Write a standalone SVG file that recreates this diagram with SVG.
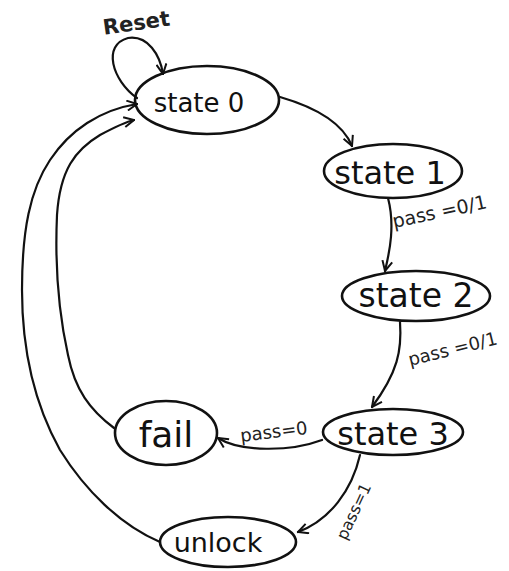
<svg xmlns="http://www.w3.org/2000/svg" width="509" height="571" viewBox="0 0 509 571">
<style>
.n{fill:none;stroke:#111;stroke-width:2.6}
.c{fill:none;stroke:#111;stroke-width:2.2;stroke-linecap:round}
.t{font-family:"DejaVu Sans","Liberation Sans",sans-serif;fill:#111;text-anchor:middle}
.l{font-family:"DejaVu Sans","Liberation Sans",sans-serif;fill:#222}
</style>
<defs>
<marker id="ah" viewBox="0 0 12 12" refX="11" refY="6" markerWidth="12" markerHeight="12" markerUnits="userSpaceOnUse" orient="auto">
<path d="M1,1 L11,6 L1,11" fill="none" stroke="#111" stroke-width="2"/>
</marker>
</defs>
<rect width="509" height="571" fill="#fff"/>
<g id="connectors">
<path class="c" d="M137,98 C112,80 102,45 128,38 C148,35 160,55 163,74" marker-end="url(#ah)"/>
<path class="c" d="M280,97 C318,108 343,124 352,146" marker-end="url(#ah)"/>
<path class="c" d="M388,198 C395,225 390,250 385,271" marker-end="url(#ah)"/>
<path class="c" d="M400,322 C402,350 398,372 372,407" marker-end="url(#ah)"/>
<path class="c" d="M322,440 C290,452 240,452 218,438" marker-end="url(#ah)"/>
<path class="c" d="M360,455 C352,490 330,520 298,532" marker-end="url(#ah)"/>
<path class="c" d="M160,542 C120,525 85,490 60,450 C35,405 22,350 22,290 C22,230 30,190 50,160 C70,130 100,110 137,104" marker-end="url(#ah)"/>
<path class="c" d="M114,428 C90,410 75,390 68,355 C58,310 55,260 57,215 C60,170 75,150 100,135 C115,127 125,122 134,120" marker-end="url(#ah)"/>
<text class="l" x="103" y="31" font-size="21" font-weight="bold" transform="rotate(-8 130 25)">Reset</text>
<text class="l" x="394" y="228" font-size="19" transform="rotate(-12 394 228)">pass =0/1</text>
<text class="l" x="410" y="366" font-size="18" transform="rotate(-14 410 366)">pass =0/1</text>
<text class="l" x="241" y="442" font-size="18" transform="rotate(-7 241 442)">pass=0</text>
<text class="l" x="346" y="541" font-size="16" transform="rotate(-65 346 541)">pass=1</text>
</g>
<g id="state0">
<ellipse class="n" cx="207" cy="100" rx="72" ry="34"/>
<text class="t" x="199" y="112" font-size="26">state 0</text>
</g>
<g id="state1">
<ellipse class="n" cx="393" cy="171" rx="69" ry="27"/>
<text class="t" x="390" y="184" font-size="32">state 1</text>
</g>
<g id="state2">
<ellipse class="n" cx="416" cy="296" rx="74" ry="25"/>
<text class="t" x="416" y="307" font-size="33">state 2</text>
</g>
<g id="state3">
<ellipse class="n" cx="393" cy="432" rx="70" ry="23"/>
<text class="t" x="393" y="445" font-size="32">state 3</text>
</g>
<g id="fail">
<ellipse class="n" cx="166" cy="433" rx="51" ry="32"/>
<text class="t" x="166" y="447" font-size="36">fail</text>
</g>
<g id="unlock">
<ellipse class="n" cx="228" cy="542" rx="68" ry="25"/>
<text class="t" x="218" y="552" font-size="27">unlock</text>
</g>
</svg>
